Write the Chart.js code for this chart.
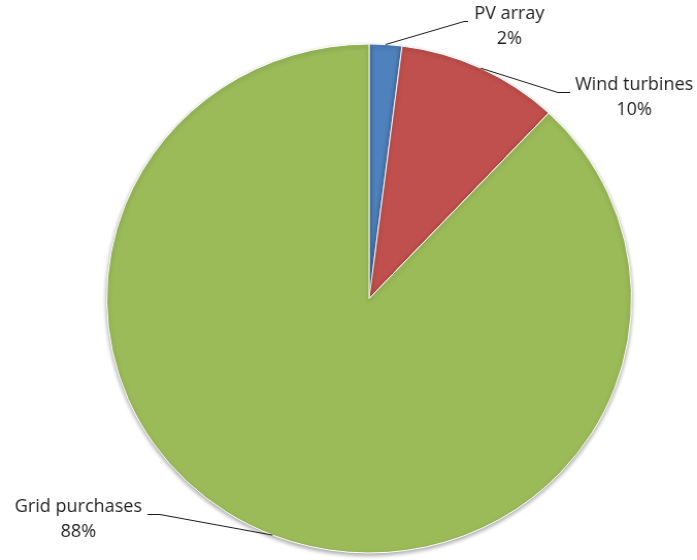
<!DOCTYPE html>
<html>
<head>
<meta charset="utf-8">
<script src="https://cdn.jsdelivr.net/npm/chart.js@4.4.1/dist/chart.umd.min.js"></script>
<style>
  html, body { margin: 0; padding: 0; background: #ffffff; overflow: hidden; }
  #pie { display: block; }
</style>
</head>
<body>
<!-- drawn at 676 wide, shown at 697 wide (slightly widened pie) -->
<canvas id="pie" width="676" height="560" style="width:697px;height:560px;"></canvas>
<script>
// Share of energy supply by source
const categories = ['PV array', 'Wind turbines', 'Grid purchases'];
const shares = [2, 10, 88];
const sliceColors = ['#4F81BD', '#C0504D', '#9BBB59'];

// Where each callout sits, relative to the pie centre:
// elbow = bend of the leader line, tip = end under the text, text = centre of first line
const callouts = [
  { elbow: [92, -277], tip: [96, -277], text: [136, -284] },
  { elbow: [183, -206], tip: [195, -206], text: [257, -213] },
  { elbow: [-203, 216], tip: [-215, 216], text: [-282, 209] }
];

const FONT = '17.5px "Open Sans", Lato, sans-serif';
const TEXT_COLOR = '#1f1f1f';
const LINE_GAP = 25;

const calloutPlugin = {
  id: 'callouts',
  afterDatasetsDraw(chart) {
    const ctx = chart.ctx;
    const meta = chart.getDatasetMeta(0);
    const data = chart.data.datasets[0].data;
    const total = data.reduce((a, b) => a + b, 0);
    ctx.save();
    meta.data.forEach((arc, i) => {
      const p = arc.getProps(['x', 'y', 'startAngle', 'endAngle', 'outerRadius'], true);
      const mid = (p.startAngle + p.endAngle) / 2;
      const ex = p.x + Math.cos(mid) * p.outerRadius;
      const ey = p.y + Math.sin(mid) * p.outerRadius;
      const c = callouts[i];
      ctx.strokeStyle = '#1a1a1a';
      ctx.lineWidth = 1;
      ctx.beginPath();
      ctx.moveTo(ex, ey);
      ctx.lineTo(p.x + c.elbow[0], p.y + c.elbow[1]);
      ctx.lineTo(p.x + c.tip[0], p.y + c.tip[1]);
      ctx.stroke();

      ctx.fillStyle = TEXT_COLOR;
      ctx.font = FONT;
      ctx.textAlign = 'center';
      ctx.textBaseline = 'middle';
      const tx = p.x + c.text[0];
      const ty = p.y + c.text[1];
      ctx.fillText(chart.data.labels[i], tx, ty);
      ctx.fillText(Math.round(data[i] / total * 100) + '%', tx, ty + LINE_GAP);
    });
    ctx.restore();
  }
};

// soft drop shadow under the pie
const shadowPlugin = {
  id: 'pieShadow',
  beforeDatasetsDraw(chart) {
    const ctx = chart.ctx;
    ctx.save();
    ctx.shadowColor = 'rgba(0,0,0,0.35)';
    ctx.shadowBlur = 4;
    ctx.shadowOffsetX = 0;
    ctx.shadowOffsetY = 2;
  },
  afterDatasetsDraw(chart) {
    chart.ctx.restore();
  }
};

new Chart(document.getElementById('pie'), {
  type: 'pie',
  data: {
    labels: categories,
    datasets: [{
      data: shares,
      backgroundColor: sliceColors,
      borderColor: '#ffffff',
      borderWidth: 1
    }]
  },
  options: {
    responsive: false,
    animation: false,
    devicePixelRatio: 1,
    layout: { padding: { top: 43, bottom: 6, left: 103, right: 63 } },
    plugins: {
      legend: { display: false },
      tooltip: { enabled: false }
    }
  },
  plugins: [shadowPlugin, calloutPlugin]
});
</script>
</body>
</html>
